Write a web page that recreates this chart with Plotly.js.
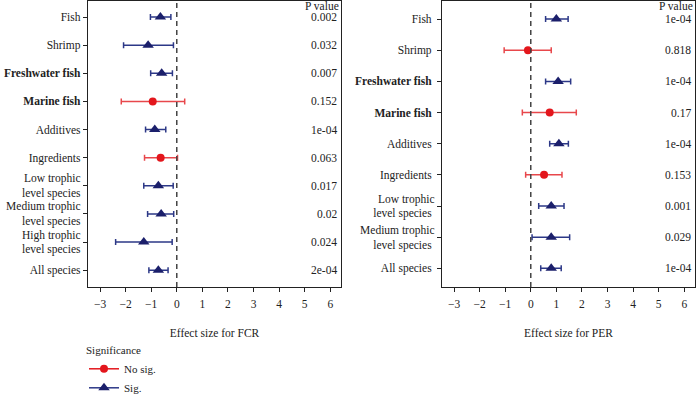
<!DOCTYPE html>
<html>
<head>
<meta charset="utf-8">
<script src="https://cdn.plot.ly/plotly-3.0.1.min.js"></script>
<style>html,body{margin:0;padding:0;background:#fff;}#chart{width:696px;height:403px;}</style>
</head>
<body>
<div id="chart"></div>
<script>
// ---- Data: FCR panel ----
const fcrCategories = ["Fish", "Shrimp", "<b>Freshwater fish</b>", "<b>Marine fish</b>", "Additives", "Ingredients",
  "Low trophic<br>level species", "Medium trophic<br>level species", "High trophic<br>level species", "All species"];
const fcrEffect = [-0.64, -1.12, -0.59, -0.94, -0.86, -0.63, -0.72, -0.61, -1.29, -0.72];
const fcrLower  = [-1.03, -2.08, -1.02, -2.17, -1.22, -1.26, -1.29, -1.14, -2.39, -1.09];
const fcrUpper  = [-0.23, -0.13, -0.17,  0.31, -0.43,  0.03, -0.14, -0.12, -0.18, -0.34];
const fcrPText  = ["0.002", "0.032", "0.007", "0.152", "1e-04", "0.063", "0.017", "0.02", "0.024", "2e-04"];

// ---- Data: PER panel ----
const perCategories = ["Fish ", "Shrimp ", "<b>Freshwater fish</b> ", "<b>Marine fish</b> ", "Additives ", "Ingredients ",
  "Low trophic<br>level species ", "Medium trophic<br>level species ", "All species "];
const perEffect = [1.00, -0.11, 1.07, 0.74, 1.10, 0.52, 0.80, 0.80, 0.80];
const perLower  = [0.58, -1.04, 0.58, -0.33, 0.74, -0.20, 0.31, 0.05, 0.39];
const perUpper  = [1.46,  0.80, 1.56,  1.78, 1.47,  1.22, 1.30, 1.52, 1.19];
const perPText  = ["1e-04", "0.818", "1e-04", "0.17", "1e-04", "0.153", "0.001", "0.029", "1e-04"];

const xTicks = [-3, -2, -1, 0, 1, 2, 3, 4, 5, 6];

const NAVY = "#1b1f6b", NAVY_ERR = "#2c3887";
const RED = "#e3161c", RED_ERR = "#e8474b";
const FONT = "Liberation Serif, DejaVu Serif, serif";

function panelTraces(cats, eff, lo, hi, ptxt, xa, ya) {
  const out = [];
  const groups = [
    {sig: false, color: RED, err: RED_ERR, symbol: "circle", size: 8},
    {sig: true, color: NAVY, err: NAVY_ERR, symbol: "triangle-up", size: 10}
  ];
  groups.forEach(g => {
    const x = [], y = [], ep = [], em = [];
    cats.forEach((c, i) => {
      const isSig = parseFloat(ptxt[i]) < 0.05;
      if (isSig === g.sig) {
        x.push(eff[i]); y.push(c);
        ep.push(hi[i] - eff[i]); em.push(eff[i] - lo[i]);
      }
    });
    out.push({
      type: "scatter", mode: "markers", x: x, y: y, xaxis: xa, yaxis: ya,
      showlegend: false, hoverinfo: "skip",
      marker: {color: g.color, symbol: g.symbol, size: g.size},
      error_x: {type: "data", symmetric: false, array: ep, arrayminus: em,
        color: g.err, thickness: 1.5, width: 3}
    });
  });
  return out;
}

const traces = []
  .concat(panelTraces(fcrCategories, fcrEffect, fcrLower, fcrUpper, fcrPText, "x", "y"))
  .concat(panelTraces(perCategories, perEffect, perLower, perUpper, perPText, "x2", "y2"));

// legend-only traces
traces.push({type: "scatter", mode: "lines+markers", x: [null], y: [null], xaxis: "x", yaxis: "y",
  name: "No sig.", line: {color: RED, width: 1.5}, marker: {color: RED, symbol: "circle", size: 8}});
traces.push({type: "scatter", mode: "lines+markers", x: [null], y: [null], xaxis: "x", yaxis: "y",
  name: "Sig.", line: {color: NAVY_ERR, width: 1.5}, marker: {color: NAVY, symbol: "triangle-up", size: 10}});

const W = 696, H = 403;
const plotTop = 1, plotBottom = 287;
const yDom = [1 - plotBottom / H, 1 - plotTop / H];

function xAxis(domain, title, anchor) {
  return {
    anchor: anchor,
    domain: domain, range: [-3.47, 6.42], tickvals: xTicks, ticktext: xTicks.map(v => v < 0 ? "\u2212" + Math.abs(v) : String(v)),
    showgrid: false, zeroline: false, showline: true, linecolor: "#222", linewidth: 1.2, mirror: true,
    ticks: "outside", ticklen: 4, tickcolor: "#222", tickwidth: 1,
    ticklabelposition: "outside", ticklabelstandoff: 2,
    tickfont: {family: FONT, size: 11.5, color: "#222"},
    title: {text: title, font: {family: FONT, size: 11.5, color: "#222"}, standoff: 20}
  };
}
function yAxis(cats, rng, anchor) {
  return {
    anchor: anchor,
    domain: yDom, type: "category", categoryarray: cats, categoryorder: "array", range: rng,
    showgrid: false, zeroline: false, showline: true, linecolor: "#222", linewidth: 1.2, mirror: true,
    ticks: "outside", ticklen: 4, tickcolor: "#222", tickwidth: 1,
    tickfont: {family: FONT, size: 11.5, color: "#222"}
  };
}

const annotations = [];
fcrCategories.forEach((c, i) => annotations.push({xref: "x domain", yref: "y", x: 0.988, y: i, xanchor: "right", yanchor: "middle",
  text: fcrPText[i], showarrow: false, borderpad: 0, font: {family: FONT, size: 11.5, color: "#222"}}));
perCategories.forEach((c, i) => annotations.push({xref: "x2 domain", yref: "y2", x: 0.988, y: i, xanchor: "right", yanchor: "middle",
  text: perPText[i], showarrow: false, borderpad: 0, font: {family: FONT, size: 11.5, color: "#222"}}));
annotations.push({xref: "x domain", yref: "y", x: 0.995, y: -0.39, xanchor: "right", yanchor: "middle",
  text: "P value", showarrow: false, borderpad: 0, font: {family: FONT, size: 11.5, color: "#222"}});
annotations.push({xref: "x2 domain", yref: "y2", x: 0.995, y: -0.42, xanchor: "right", yanchor: "middle",
  text: "P value", showarrow: false, borderpad: 0, font: {family: FONT, size: 11.5, color: "#222"}});

const shapes = [
  {type: "line", xref: "x", yref: "y domain", x0: 0, x1: 0, y0: 0, y1: 1, line: {color: "#444", width: 1.5, dash: "5px,4px"}},
  {type: "line", xref: "x2", yref: "y2 domain", x0: 0, x1: 0, y0: 0, y1: 1, line: {color: "#444", width: 1.5, dash: "5px,4px"}}
];

const layout = {
  width: W, height: H, margin: {l: 0, r: 0, t: 0, b: 0},
  paper_bgcolor: "#fff", plot_bgcolor: "#fff",
  font: {family: FONT, color: "#222"},
  xaxis: xAxis([88 / W, 341 / W], "Effect size for FCR", "y"),
  yaxis: yAxis(fcrCategories, [9.6, -0.57], "x"),
  xaxis2: xAxis([442 / W, 695 / W], "Effect size for PER", "y2"),
  yaxis2: yAxis(perCategories, [8.6, -0.58], "x2"),
  showlegend: true,
  legend: {x: 84 / W, y: 0, xanchor: "left", yanchor: "bottom", orientation: "v",
    title: {text: "Significance", font: {family: FONT, size: 11, color: "#222"}},
    font: {family: FONT, size: 11, color: "#222"}, bgcolor: "rgba(0,0,0,0)", tracegroupgap: 0, itemwidth: 30},
  annotations: annotations, shapes: shapes
};

Plotly.newPlot("chart", traces, layout, {displayModeBar: false, staticPlot: true});
</script>
</body>
</html>
